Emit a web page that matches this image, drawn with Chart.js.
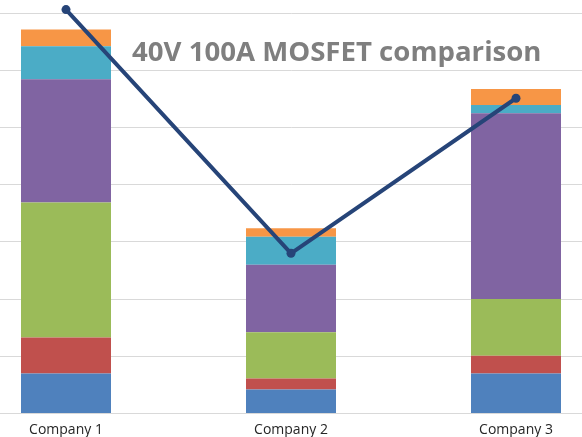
<!DOCTYPE html>
<html>
<head>
<meta charset="utf-8">
<script src="https://cdn.jsdelivr.net/npm/chart.js@4"></script>
<style>
  html, body { margin: 0; padding: 0; background: #fff; overflow: hidden; }
  #wrap { position: relative; width: 582px; height: 437px; overflow: hidden; }
  #box { position: absolute; left: -51px; top: 0; width: 684px; height: 448px; }
  #title {
    position: absolute; left: 132px; top: 37px;
    font: bold 27.6px 'Open Sans', sans-serif; line-height: 27px;
    color: #7f7f7f; white-space: nowrap;
  }
</style>
</head>
<body>
<div id="wrap">
  <div id="box"><canvas id="chart" width="684" height="448"></canvas></div>
  <div id="title">40V 100A MOSFET comparison</div>
</div>
<script>
  const companies = ['Company 1', 'Company 2', 'Company 3'];

  // stacked parts, bottom to top
  const blueVals   = [0.70, 0.42, 0.70];
  const redVals    = [0.63, 0.19, 0.31];
  const greenVals  = [2.36, 0.81, 0.99];
  const purpleVals = [2.15, 1.18, 3.25];
  const aquaVals   = [0.58, 0.49, 0.14];
  const orangeVals = [0.29, 0.15, 0.28];

  const lineVals = [7.06, 2.80, 5.51];

  const yTicks = [0, 1, 2, 3, 4, 5, 6, 7];

  function bar(data, color) {
    return {
      type: 'bar',
      data,
      backgroundColor: color,
      borderWidth: 0,
      stack: 'parts',
      order: 1,
      categoryPercentage: 1,
      barPercentage: 0.4
    };
  }

  new Chart(document.getElementById('chart'), {
    data: {
      labels: companies,
      datasets: [
        {
          type: 'line',
          data: lineVals,
          borderColor: '#264478',
          backgroundColor: '#264478',
          borderWidth: 4,
          pointRadius: 4.5,
          pointBackgroundColor: '#264478',
          pointBorderWidth: 0,
          tension: 0,
          clip: false,
          order: 0
        },
        bar(blueVals, '#4f81bd'),
        bar(redVals, '#c0504d'),
        bar(greenVals, '#9bbb59'),
        bar(purpleVals, '#8064a2'),
        bar(aquaVals, '#4bacc6'),
        bar(orangeVals, '#f79646')
      ]
    },
    options: {
      responsive: false,
      animation: false,
      layout: { padding: { top: 13, left: 0, right: 0, bottom: 1.7 } },
      plugins: { legend: { display: false }, tooltip: { enabled: false } },
      scales: {
        x: {
          stacked: true,
          grid: { display: false, drawTicks: false },
          border: { display: true, color: '#d9d9d9' },
          ticks: {
            padding: 8,
            color: '#262626',
            font: { family: "'Open Sans', sans-serif", size: 14 }
          }
        },
        y: {
          stacked: true,
          min: yTicks[0],
          max: yTicks[yTicks.length - 1],
          afterBuildTicks: s => { s.ticks = yTicks.map(v => ({ value: v })); },
          grid: { color: '#d9d9d9', lineWidth: 1, drawTicks: false },
          border: { display: false },
          ticks: { display: false }
        }
      }
    }
  });
</script>
</body>
</html>
